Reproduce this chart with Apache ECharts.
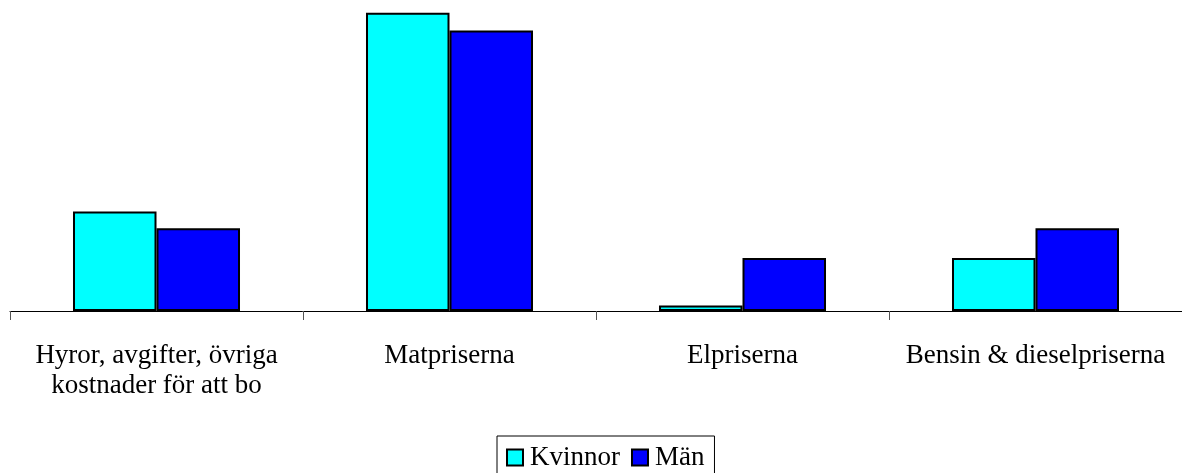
<!DOCTYPE html>
<html>
<head>
<meta charset="utf-8">
<script src="https://cdn.jsdelivr.net/npm/echarts@6/dist/echarts.min.js"></script>
<style>
html,body{margin:0;padding:0;background:#fff;}
#chart{width:1182px;height:473px;}
</style>
</head>
<body>
<div id="chart"></div>
<script>
const categories = ["Hyror, avgifter, övriga\nkostnader för att bo", "Matpriserna", "Elpriserna", "Bensin & dieselpriserna"];
const seriesNames = ["Kvinnor", "Män"];
const kvinnor = [18, 54, 1, 9.6];
const man = [15, 50.8, 9.6, 15];
const colors = ["#00FFFF", "#0000FF"];

const chart = echarts.init(document.getElementById('chart'));
const font = "'Liberation Serif', 'Times New Roman', serif";
chart.setOption({
  animation: false,
  grid: {left: 10, right: 0, top: 0, height: 311},
  legend: {
    data: seriesNames,
    left: 497,
    top: 436,
    icon: 'rect',
    itemWidth: 16,
    itemHeight: 16,
    itemGap: 11,
    padding: [8, 10, 8, 9],
    borderColor: '#000',
    borderWidth: 1,
    textStyle: {fontFamily: font, fontSize: 27, lineHeight: 26, color: '#000', padding: [0, 0, 0, 2]}
  },
  xAxis: {
    type: 'category',
    data: categories,
    axisLine: {lineStyle: {color: '#000', width: 1}},
    axisTick: {show: true, length: 9, lineStyle: {color: '#555'}},
    axisLabel: {fontFamily: font, fontSize: 27, color: '#000', lineHeight: 30, margin: 30, interval: 0}
  },
  yAxis: {type: 'value', show: false, min: 0, max: 56.3, splitLine: {show: false}},
  series: [
    {name: seriesNames[0], type: 'bar', data: kvinnor, barGap: '0%', barCategoryGap: '43%',
     itemStyle: {color: colors[0], borderColor: '#000', borderWidth: 2}},
    {name: seriesNames[1], type: 'bar', data: man, barGap: '0%', barCategoryGap: '43%',
     itemStyle: {color: colors[1], borderColor: '#000', borderWidth: 2}}
  ]
});
</script>
</body>
</html>
